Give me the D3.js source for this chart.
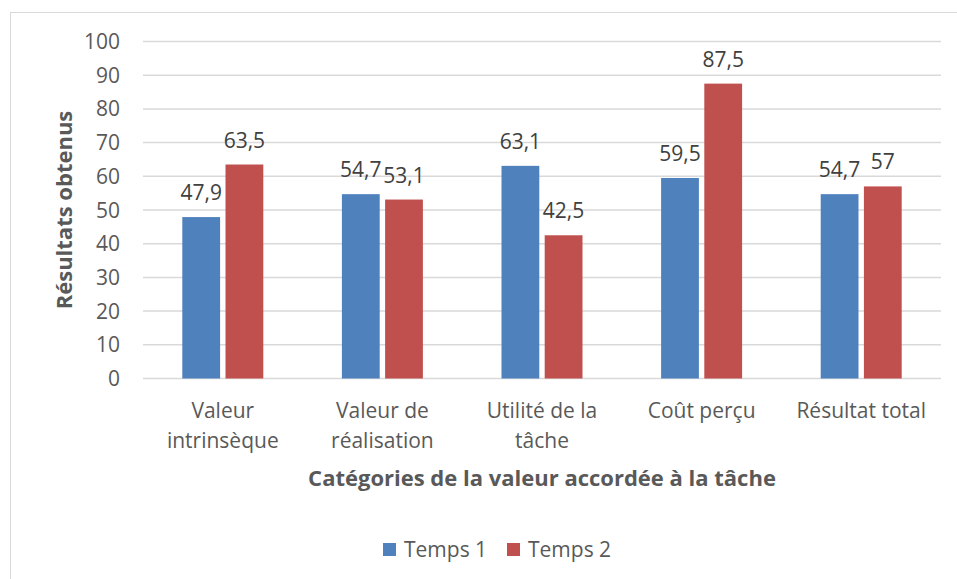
<!DOCTYPE html>
<html>
<head>
<meta charset="utf-8">
<script src="https://cdn.jsdelivr.net/npm/d3@7"></script>
<style>
	body { margin: 0; background: #fff; }
	text { font-family: "Open Sans", Lato, sans-serif; }
</style>
</head>
<body>
<svg id="chart" width="957" height="579"></svg>
<script>
// Categories and series.
var categories = [
	['Valeur', 'intrinsèque'],
	['Valeur de', 'réalisation'],
	['Utilité de la', 'tâche'],
	['Coût perçu'],
	['Résultat total']
];
var series_names = ['Temps 1', 'Temps 2'];
var temps1 = [47.9, 54.7, 63.1, 59.5, 54.7];
var temps2 = [63.5, 53.1, 42.5, 87.5, 57];
var y_ticks = [0, 10, 20, 30, 40, 50, 60, 70, 80, 90, 100];
var colors = ['#4f81bd', '#c0504d'];

var plot = { left: 143, right: 941, top: 41.5, bottom: 378.5 };
var svg = d3.select('#chart');

// Outer chart border (right and bottom run off the page).
svg.append('rect')
	.attr('x', 10.5).attr('y', 12.5)
	.attr('width', 960).attr('height', 600)
	.style('fill', '#fff')
	.style('stroke', '#d9d9d9');

var x = d3.scaleBand()
	.domain(d3.range(categories.length))
	.range([plot.left, plot.right]);
var x_inner = d3.scaleBand()
	.domain([0, 1])
	.range([0, 81])
	.paddingInner(0.125);
var y = d3.scaleLinear().domain([0, 100]).range([plot.bottom, plot.top]);

// Gridlines.
svg.append('g').selectAll('line')
	.data(y_ticks)
	.enter().append('line')
	.attr('x1', plot.left).attr('x2', plot.right)
	.attr('y1', d => y(d)).attr('y2', d => y(d))
	.style('stroke', '#d9d9d9')
	.style('stroke-width', 1.5);

// Y tick labels.
svg.append('g').selectAll('text')
	.data(y_ticks)
	.enter().append('text')
	.attr('x', 120).attr('y', d => y(d))
	.attr('dy', '0.36em')
	.attr('text-anchor', 'end')
	.style('font-size', '21px')
	.style('fill', '#595959')
	.text(d => d);

// Bars and labels.
var rows = [];
categories.forEach(function(c, i) {
	[temps1[i], temps2[i]].forEach(function(v, s) {
		rows.push({ cat: i, s: s, v: v });
	});
});
var barX = d => x(d.cat) + (x.bandwidth() - 81) / 2 + x_inner(d.s);

svg.append('g').selectAll('rect')
	.data(rows)
	.enter().append('rect')
	.attr('x', barX)
	.attr('y', d => y(d.v))
	.attr('width', x_inner.bandwidth())
	.attr('height', d => y(0) - y(d.v))
	.style('fill', d => colors[d.s]);

svg.append('g').selectAll('text')
	.data(rows)
	.enter().append('text')
	.attr('x', d => barX(d) + x_inner.bandwidth() / 2)
	.attr('y', d => y(d.v) - 17)
	.attr('text-anchor', 'middle')
	.style('font-size', '21px')
	.style('fill', '#404040')
	.text(d => String(d.v).replace('.', ','));

// Category labels.
var cat_g = svg.append('g').selectAll('text')
	.data(categories)
	.enter().append('text')
	.attr('x', (d, i) => x(i) + x.bandwidth() / 2)
	.attr('y', 418)
	.attr('text-anchor', 'middle')
	.style('font-size', '21px')
	.style('fill', '#595959');
cat_g.selectAll('tspan')
	.data(d => d)
	.enter().append('tspan')
	.attr('x', function() { return this.parentNode.getAttribute('x'); })
	.attr('dy', (d, i) => i ? 29.5 : 0)
	.text(d => d);

// Axis titles.
svg.append('text')
	.attr('x', (plot.left + plot.right) / 2)
	.attr('y', 486)
	.attr('text-anchor', 'middle')
	.style('font-size', '22px')
	.style('font-weight', 'bold')
	.style('fill', '#595959')
	.text('Catégories de la valeur accordée à la tâche');

svg.append('text')
	.attr('transform', 'translate(72,' + ((plot.top + plot.bottom) / 2) + ') rotate(-90)')
	.attr('text-anchor', 'middle')
	.style('font-size', '22px')
	.style('font-weight', 'bold')
	.style('fill', '#595959')
	.text('Résultats obtenus');

// Legend.
var legend_items = [{ x: 383 }, { x: 507 }];
var legend = svg.append('g').selectAll('g')
	.data(series_names)
	.enter().append('g')
	.attr('transform', (d, i) => 'translate(' + legend_items[i].x + ',0)');
legend.append('rect')
	.attr('y', 543).attr('width', 13).attr('height', 13)
	.style('fill', (d, i) => colors[i]);
legend.append('text')
	.attr('x', 21).attr('y', 557)
	.style('font-size', '21px')
	.style('fill', '#595959')
	.text(d => d);
</script>
</body>
</html>
